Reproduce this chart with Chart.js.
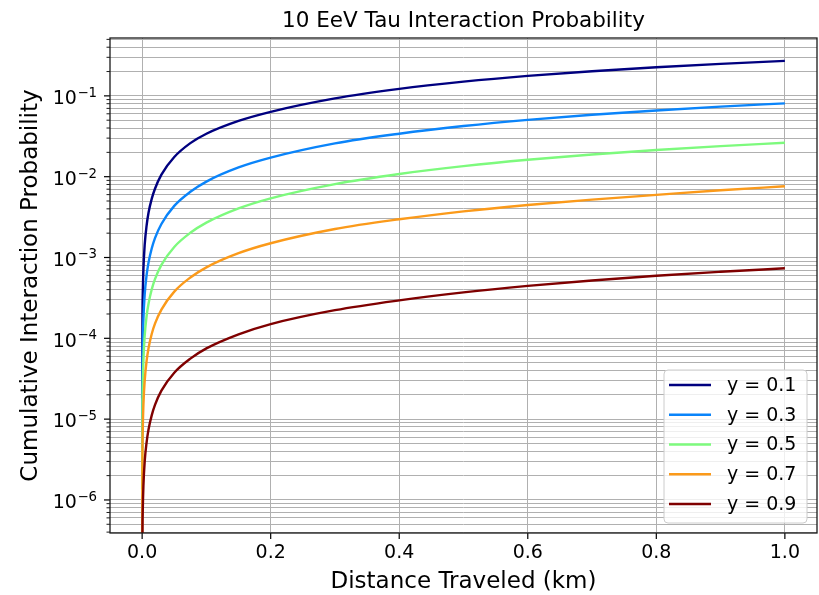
<!DOCTYPE html>
<html>
<head>
<meta charset="utf-8">
<script src="https://cdn.jsdelivr.net/npm/chart.js@4.4.0/dist/chart.umd.min.js"></script>
<style>
  body { margin: 0; background: #fff; }
  #wrap { width: 819px; height: 595px; }
</style>
</head>
<body>
<div id="wrap"><canvas id="chart" width="819" height="595"></canvas></div>
<script>
// distance travelled by the tau (km)
const distance = [0.00005, 0.0005, 0.001, 0.002, 0.004, 0.007, 0.01, 0.015, 0.02, 0.03, 0.05,
                  0.075, 0.1, 0.15, 0.2, 0.3, 0.4, 0.5, 0.6, 0.7, 0.8, 0.9, 1.0];

// inelasticity values, one curve each
const inelasticity = [0.1, 0.3, 0.5, 0.7, 0.9];

// cumulative interaction probability
const probY01 = [1.8e-5, 1.8e-4, 3.6e-4, 7.2e-4, 1.44e-3, 2.5e-3, 3.6e-3, 5.35e-3, 7.1e-3, 0.0106, 0.0175,
                 0.026, 0.034, 0.049, 0.0635, 0.093, 0.122, 0.150, 0.177, 0.202, 0.226, 0.249, 0.271];
const probY03 = [4.4e-6, 4.4e-5, 8.8e-5, 1.75e-4, 3.5e-4, 6.1e-4, 8.7e-4, 1.3e-3, 1.74e-3, 2.6e-3, 4.35e-3,
                 6.5e-3, 8.7e-3, 0.0130, 0.0172, 0.0258, 0.0340, 0.0423, 0.0505, 0.0583, 0.0660, 0.0736, 0.0808];
const probY05 = [1.35e-6, 1.35e-5, 2.7e-5, 5.4e-5, 1.08e-4, 1.9e-4, 2.7e-4, 4.05e-4, 5.4e-4, 8.1e-4, 1.35e-3,
                 2.02e-3, 2.7e-3, 4.05e-3, 5.4e-3, 8.1e-3, 0.0108, 0.0135, 0.0162, 0.0188, 0.0214, 0.0239, 0.0263];
const probY07 = [3.8e-7, 3.8e-6, 7.6e-6, 1.52e-5, 3.0e-5, 5.3e-5, 7.6e-5, 1.14e-4, 1.52e-4, 2.27e-4, 3.78e-4,
                 5.65e-4, 7.55e-4, 1.13e-3, 1.5e-3, 2.25e-3, 2.97e-3, 3.72e-3, 4.46e-3, 5.2e-3, 5.95e-3, 6.8e-3, 7.6e-3];
const probY09 = [3.7e-8, 3.7e-7, 7.5e-7, 1.5e-6, 3.0e-6, 5.2e-6, 7.5e-6, 1.12e-5, 1.5e-5, 2.25e-5, 3.75e-5,
                 5.6e-5, 7.5e-5, 1.12e-4, 1.5e-4, 2.23e-4, 2.95e-4, 3.7e-4, 4.45e-4, 5.2e-4, 5.95e-4, 6.65e-4, 7.35e-4];
const seriesValues = [probY01, probY03, probY05, probY07, probY09];

// axis ticks
const xTicks = [0.0, 0.2, 0.4, 0.6, 0.8, 1.0];
const yExponents = [-7, -6, -5, -4, -3, -2, -1];
const yMantissas = [1, 2, 3, 4, 5, 6, 7, 8, 9];
const xRange = [-0.05, 1.05];
const yRange = [3.9e-7, 0.52];

const titleText = '10 EeV Tau Interaction Probability';

// jet colormap samples
const seriesColors = ['#00007f', '#0a84fa', '#7dfa7d', '#fb9a1a', '#7f0000'];

const FONT = 'DejaVu Sans';

function isDecade(v) {
    const e = Math.round(Math.log10(v));
    return Math.abs(v / Math.pow(10, e) - 1) < 1e-6;
}

const datasets = inelasticity.map((y, i) => ({
    label: 'y = ' + y,
    data: distance.map((d, j) => ({ x: d, y: seriesValues[i][j] })),
    borderColor: seriesColors[i],
    backgroundColor: seriesColors[i],
    borderWidth: 2.4,
    pointRadius: 0,
    fill: false,
    cubicInterpolationMode: 'monotone',
    clip: 0,
    order: inelasticity.length - i   // later curves drawn on top, like matplotlib
}));

// title, frame, tick marks, power-of-ten labels and the legend box
const framePlugin = {
    id: 'frame',
    afterDraw(chart) {
        const ctx = chart.ctx;
        const a = chart.chartArea;
        const xs = chart.scales.x, ys = chart.scales.y;
        ctx.save();
        ctx.strokeStyle = '#000';

        // title centred over the axes
        ctx.fillStyle = '#000';
        ctx.font = '21.5px "' + FONT + '"';
        ctx.textAlign = 'center';
        ctx.textBaseline = 'alphabetic';
        ctx.fillText(titleText, (a.left + a.right) / 2, 27);

        // y tick marks and labels
        ys.ticks.forEach(t => {
            const py = ys.getPixelForValue(t.value);
            const major = isDecade(t.value);
            ctx.lineWidth = major ? 1.2 : 0.9;
            ctx.beginPath();
            ctx.moveTo(a.left, py);
            ctx.lineTo(a.left - (major ? 6 : 3.5), py);
            ctx.stroke();
            if (major) {
                const e = Math.round(Math.log10(t.value));
                const expText = String(e).replace('-', '\u2212');
                const xr = a.left - 13;
                ctx.textAlign = 'right';
                ctx.font = '13.3px "' + FONT + '"';
                const ew = ctx.measureText(expText).width;
                ctx.fillText(expText, xr, py + 1);
                ctx.font = '19px "' + FONT + '"';
                ctx.fillText('10', xr - ew - 0.5, py + 8.3);
            }
        });
        // x tick marks
        ctx.lineWidth = 1.2;
        xs.ticks.forEach(t => {
            const px = xs.getPixelForValue(t.value);
            ctx.beginPath();
            ctx.moveTo(px, a.bottom);
            ctx.lineTo(px, a.bottom + 6);
            ctx.stroke();
        });

        ctx.lineWidth = 1.3;
        ctx.strokeStyle = '#1a1a1a';
        ctx.strokeRect(a.left, a.top, a.right - a.left, a.bottom - a.top);

        // legend, lower right
        const items = chart.data.datasets;
        const rowH = 29.75, boxW = 143, boxH = 153;
        const bx = a.right - 10 - boxW, by = a.bottom - 10 - boxH;
        ctx.beginPath();
        ctx.roundRect(bx, by, boxW, boxH, 4);
        ctx.fillStyle = 'rgba(255,255,255,0.8)';
        ctx.fill();
        ctx.lineWidth = 1;
        ctx.strokeStyle = '#cccccc';
        ctx.stroke();
        ctx.font = '19px "' + FONT + '"';
        ctx.textBaseline = 'middle';
        ctx.textAlign = 'left';
        items.forEach((ds, i) => {
            const cy = by + 15 + i * rowH;
            ctx.strokeStyle = ds.borderColor;
            ctx.lineWidth = 2.4;
            ctx.beginPath();
            ctx.moveTo(bx + 5, cy);
            ctx.lineTo(bx + 47, cy);
            ctx.stroke();
            ctx.fillStyle = '#000';
            ctx.fillText(ds.label, bx + 63, cy + 1);
        });
        ctx.restore();
    }
};

const ctx = document.getElementById('chart').getContext('2d');
const chart = new Chart(ctx, {
    type: 'line',
    data: { datasets: datasets },
    options: {
        responsive: false,
        animation: false,
        events: [],
        layout: { padding: { left: 0, right: 2, top: 38, bottom: 0 } },
        plugins: {
            legend: { display: false },
            tooltip: { enabled: false },
            title: { display: false }
        },
        scales: {
            x: {
                type: 'linear',
                min: xRange[0],
                max: xRange[1],
                afterBuildTicks: (scale) => { scale.ticks = xTicks.map(v => ({ value: v })); },
                afterFit: (scale) => { scale.height = 62; },
                ticks: {
                    autoSkip: false,
                    maxRotation: 0,
                    padding: 9,
                    color: '#000',
                    font: { family: FONT, size: 19 },
                    callback: (v) => Number(v).toFixed(1)
                },
                grid: { color: '#b0b0b0', lineWidth: 1, drawTicks: false },
                border: { display: false },
                title: {
                    display: true,
                    text: 'Distance Traveled (km)',
                    color: '#000',
                    font: { family: FONT, size: 23, lineHeight: 1.15 },
                    padding: { top: 0, bottom: 0 }
                }
            },
            y: {
                type: 'logarithmic',
                min: yRange[0],
                max: yRange[1],
                afterBuildTicks: (scale) => {
                    const t = [];
                    yExponents.forEach(e => yMantissas.forEach(m => {
                        const v = Number((m * Math.pow(10, e)).toPrecision(3));
                        if (v >= yRange[0] && v <= yRange[1]) t.push({ value: v });
                    }));
                    scale.ticks = t;
                },
                afterFit: (scale) => { scale.width = 110; },
                ticks: { display: false, autoSkip: false },
                grid: { color: '#b0b0b0', lineWidth: 1, drawTicks: false },
                border: { display: false },
                title: {
                    display: true,
                    text: 'Cumulative Interaction Probability',
                    color: '#000',
                    font: { family: FONT, size: 23, lineHeight: 1.15 },
                    padding: { top: 18, bottom: 0 }
                }
            }
        }
    },
    plugins: [framePlugin]
});
</script>
</body>
</html>
